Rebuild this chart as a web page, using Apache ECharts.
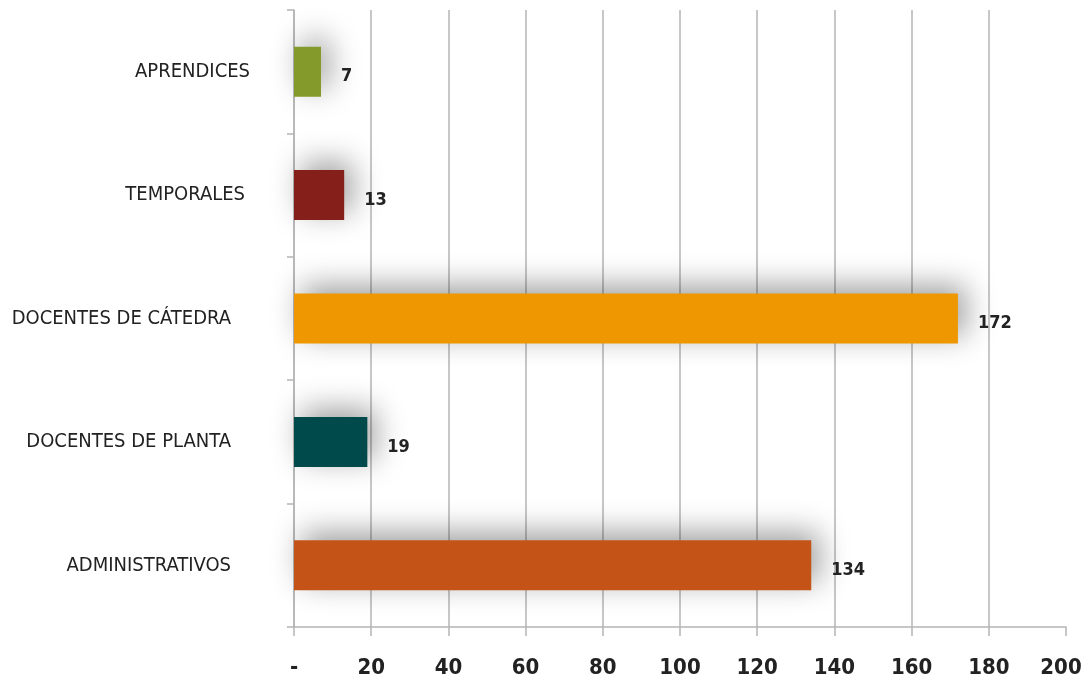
<!DOCTYPE html>
<html>
<head>
<meta charset="utf-8">
<script src="https://cdn.jsdelivr.net/npm/echarts@6/dist/echarts.min.js"></script>
<style>
  html, body { margin: 0; padding: 0; background: #fff; }
  #chart { width: 1085px; height: 683px; }
</style>
</head>
<body>
<div id="chart"></div>
<script>
// Staff by type (bottom to top on the category axis)
const categories = ['ADMINISTRATIVOS', 'DOCENTES DE PLANTA', 'DOCENTES DE CÁTEDRA', 'TEMPORALES', 'APRENDICES'];
const values = [134, 19, 172, 13, 7];
const barColors = ['#C45318', '#004A4C', '#EE9700', '#841F1A', '#849B2B'];
const xTicks = [0, 20, 40, 60, 80, 100, 120, 140, 160, 180, 200];

const condensed = '"Liberation Sans Narrow", "DejaVu Sans Condensed", "Roboto", sans-serif';
const axisGray = '#b4b4b4';

// extra right-side gap per category label (the long labels sit further from the axis)
const labelGap = { 'ADMINISTRATIVOS': 19, 'DOCENTES DE PLANTA': 19, 'DOCENTES DE CÁTEDRA': 19, 'TEMPORALES': 5, 'APRENDICES': 0 };

const tickStyle = { fontFamily: condensed, fontWeight: 'bold', fontSize: 22, color: '#222' };

const chart = echarts.init(document.getElementById('chart'));
chart.setOption({
  animation: false,
  backgroundColor: '#ffffff',
  grid: { left: 294, right: 19, top: 10, bottom: 56, containLabel: false, outerBoundsMode: 'none' },
  xAxis: {
    type: 'value',
    min: xTicks[0],
    max: xTicks[xTicks.length - 1],
    interval: 20,
    axisLine: { show: true, lineStyle: { color: axisGray, width: 1.5 } },
    axisTick: { show: true, length: 9, lineStyle: { color: axisGray, width: 1.5 } },
    splitLine: { show: true, showMaxLine: false, lineStyle: { color: axisGray, width: 1.5 } },
    axisLabel: {
      margin: 30,
      formatter: v => {
        if (v === 0) return '{t|-}';
        // last label is nudged inward so it stays on the canvas
        if (v === xTicks[xTicks.length - 1]) return '{m|' + v + '}';
        return '{t|' + v + '}';
      },
      rich: {
        t: tickStyle,
        m: Object.assign({}, tickStyle, { padding: [0, 10, 0, 0] })
      }
    }
  },
  yAxis: {
    type: 'category',
    data: categories,
    axisLine: { show: true, lineStyle: { color: axisGray, width: 1.5 } },
    axisTick: { show: true, length: 7, lineStyle: { color: axisGray, width: 1.5 } },
    splitLine: { show: false },
    axisLabel: {
      margin: 44,
      formatter: v => '{g' + labelGap[v] + '|' + v + '}',
      rich: {
        g0: { fontFamily: condensed, fontSize: 20, color: '#222', padding: [0, 0, 0, 0] },
        g5: { fontFamily: condensed, fontSize: 20, color: '#222', padding: [0, 5, 0, 0] },
        g19: { fontFamily: condensed, fontSize: 20, color: '#222', padding: [0, 19, 0, 0] }
      }
    }
  },
  series: [{
    type: 'bar',
    barWidth: 50,
    data: values.map((v, i) => ({
      value: v,
      itemStyle: {
        color: barColors[i],
        shadowColor: 'rgba(0,0,0,0.38)',
        shadowBlur: 30,
        shadowOffsetX: 8,
        shadowOffsetY: -8
      }
    })),
    label: {
      show: true,
      position: 'right',
      distance: 20,
      offset: [0, 5],
      fontFamily: condensed,
      fontWeight: 'bold',
      fontSize: 18,
      color: '#222'
    }
  }]
});
</script>
</body>
</html>
